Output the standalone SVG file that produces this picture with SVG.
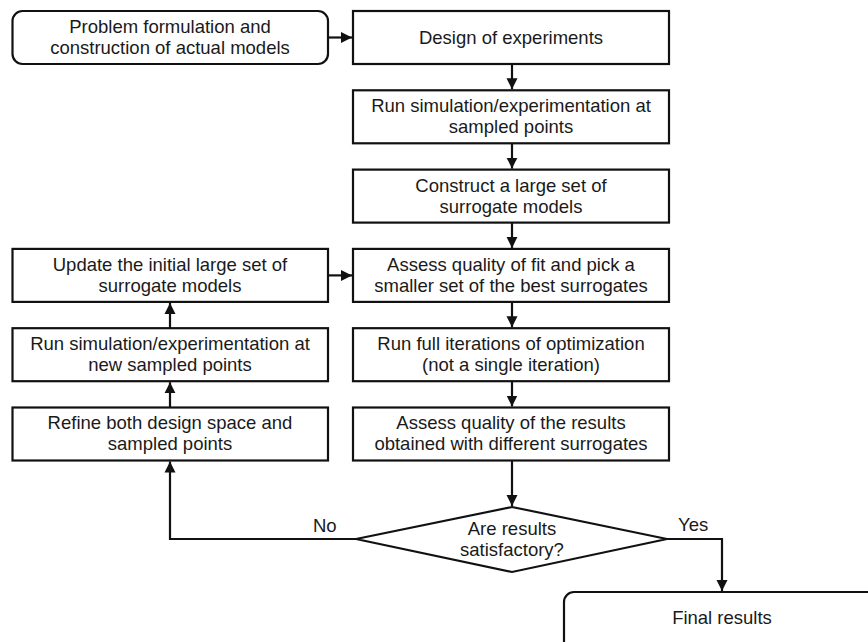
<svg xmlns="http://www.w3.org/2000/svg" width="868" height="642" viewBox="0 0 868 642">
  <defs>
    <marker id="arrow" markerUnits="userSpaceOnUse" markerWidth="12" markerHeight="12" viewBox="0 0 12 12" refX="11" refY="6" orient="auto">
      <path d="M0,0.5 L11,6 L0,11.5 Z" fill="#111"/>
    </marker>
    <style>
      .box { fill: #fff; stroke: #111; stroke-width: 2.2; }
      .lbl { font-family: "Liberation Sans", Arial, sans-serif; font-size: 18.5px; fill: #1a1a1a; text-anchor: middle; }
      .edge { fill: none; stroke: #111; stroke-width: 2.2; marker-end: url(#arrow); }
      .tag { font-family: "Liberation Sans", Arial, sans-serif; font-size: 18.5px; fill: #1a1a1a; }
    </style>
  </defs>
  <rect width="868" height="642" fill="#fff"/>

  <!-- connectors -->
  <g id="connectors">
    <path class="edge" d="M328,37.5 H352"/>
    <path class="edge" d="M512,64 V89.3"/>
    <path class="edge" d="M512,143.3 V168.6"/>
    <path class="edge" d="M512,222.6 V247.9"/>
    <path class="edge" d="M512,301.9 V327.2"/>
    <path class="edge" d="M512,381.2 V406.5"/>
    <path class="edge" d="M512,460.5 V506"/>
    <path class="edge" d="M356,539 H170 V461.5"/>
    <path class="edge" d="M667,539 H722 V591"/>
    <path class="edge" d="M170,407.5 V382.2"/>
    <path class="edge" d="M170,328.2 V302.9"/>
    <path class="edge" d="M328,275.4 H352"/>
    <text class="tag" x="313" y="532">No</text>
    <text class="tag" x="678" y="531">Yes</text>
  </g>

  <!-- start -->
  <g id="start">
    <rect class="box" x="12.5" y="11" width="315.5" height="53" rx="10"/>
    <text class="lbl" x="170" y="33">Problem formulation and</text>
    <text class="lbl" x="170" y="54">construction of actual models</text>
  </g>

  <!-- main column -->
  <g id="doe">
    <rect class="box" x="353" y="11" width="316" height="53"/>
    <text class="lbl" x="511" y="44">Design of experiments</text>
  </g>
  <g id="run-sim">
    <rect class="box" x="353" y="90.3" width="316" height="53"/>
    <text class="lbl" x="511" y="112">Run simulation/experimentation at</text>
    <text class="lbl" x="511" y="133">sampled points</text>
  </g>
  <g id="construct">
    <rect class="box" x="353" y="169.6" width="316" height="53"/>
    <text class="lbl" x="511" y="191.5">Construct a large set of</text>
    <text class="lbl" x="511" y="212.5">surrogate models</text>
  </g>
  <g id="assess-fit">
    <rect class="box" x="353" y="248.9" width="316" height="53"/>
    <text class="lbl" x="511" y="270.8">Assess quality of fit and pick a</text>
    <text class="lbl" x="511" y="291.8">smaller set of the best surrogates</text>
  </g>
  <g id="optimize">
    <rect class="box" x="353" y="328.2" width="316" height="53"/>
    <text class="lbl" x="511" y="350.1">Run full iterations of optimization</text>
    <text class="lbl" x="511" y="371.1">(not a single iteration)</text>
  </g>
  <g id="assess-results">
    <rect class="box" x="353" y="407.5" width="316" height="53"/>
    <text class="lbl" x="511" y="429.4">Assess quality of the results</text>
    <text class="lbl" x="511" y="450.4">obtained with different surrogates</text>
  </g>

  <!-- refinement loop -->
  <g id="update">
    <rect class="box" x="12.5" y="248.9" width="315.5" height="53"/>
    <text class="lbl" x="170" y="270.8">Update the initial large set of</text>
    <text class="lbl" x="170" y="291.8">surrogate models</text>
  </g>
  <g id="run-new">
    <rect class="box" x="12.5" y="328.2" width="315.5" height="53"/>
    <text class="lbl" x="170" y="350.1">Run simulation/experimentation at</text>
    <text class="lbl" x="170" y="371.1">new sampled points</text>
  </g>
  <g id="refine">
    <rect class="box" x="12.5" y="407.5" width="315.5" height="53"/>
    <text class="lbl" x="170" y="429.4">Refine both design space and</text>
    <text class="lbl" x="170" y="450.4">sampled points</text>
  </g>

  <!-- decision -->
  <g id="decision">
    <polygon class="box" points="512,507 667,539 512,572 356,539"/>
    <text class="lbl" x="512" y="535">Are results</text>
    <text class="lbl" x="512" y="556">satisfactory?</text>
  </g>

  <!-- end -->
  <g id="final">
    <rect class="box" x="564" y="592" width="318" height="80" rx="10"/>
    <text class="lbl" x="722" y="624">Final results</text>
  </g>
</svg>
